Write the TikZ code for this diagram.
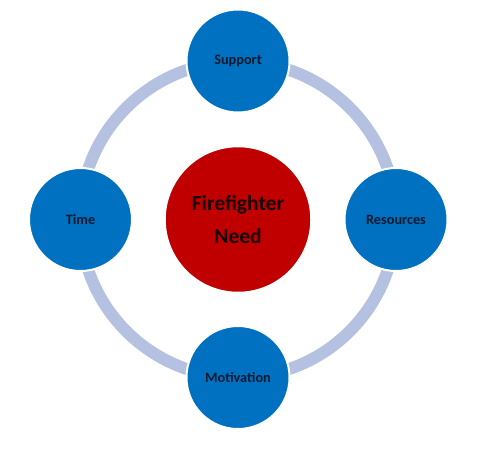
\documentclass[tikz,border=0pt]{standalone}
\usepackage{fontspec}
\setmainfont{Carlito}
\definecolor{hubred}{HTML}{C00000}
\definecolor{spokeblue}{HTML}{0070C0}
\definecolor{ringblue}{HTML}{B4C1E1}
\definecolor{inkdark}{HTML}{0B1A2E}
\begin{document}
\begin{tikzpicture}[x=1pt,y=1pt]
\tikzset{
    hub/.style={circle,fill=hubred,draw=white,line width=1.5pt,minimum size=146pt,align=center,text=black!90!red,font=\fontsize{21.5}{33}\selectfont\bfseries},
    spoke/.style={circle,fill=spokeblue,draw=white,line width=2pt,minimum size=103pt,text=inkdark,font=\fontsize{14.3}{16}\selectfont\bfseries},
    ring/.style={draw=ringblue,line width=12pt}
}
\useasboundingbox (0,0) rectangle (478,456);
\coordinate (centre) at (238,236.5);
\draw[ring] (centre) circle (158);

\node[hub] (need) at (centre) {Firefighter\\Need};
\node[spoke] (support) at (238,395) {Support};
\node[spoke] (resources) at (396,236.5) {Resources};
\node[spoke] (motivation) at (238,78.5) {Motivation};
\node[spoke] (time) at (80.5,236.5) {Time};
\end{tikzpicture}
\end{document}
